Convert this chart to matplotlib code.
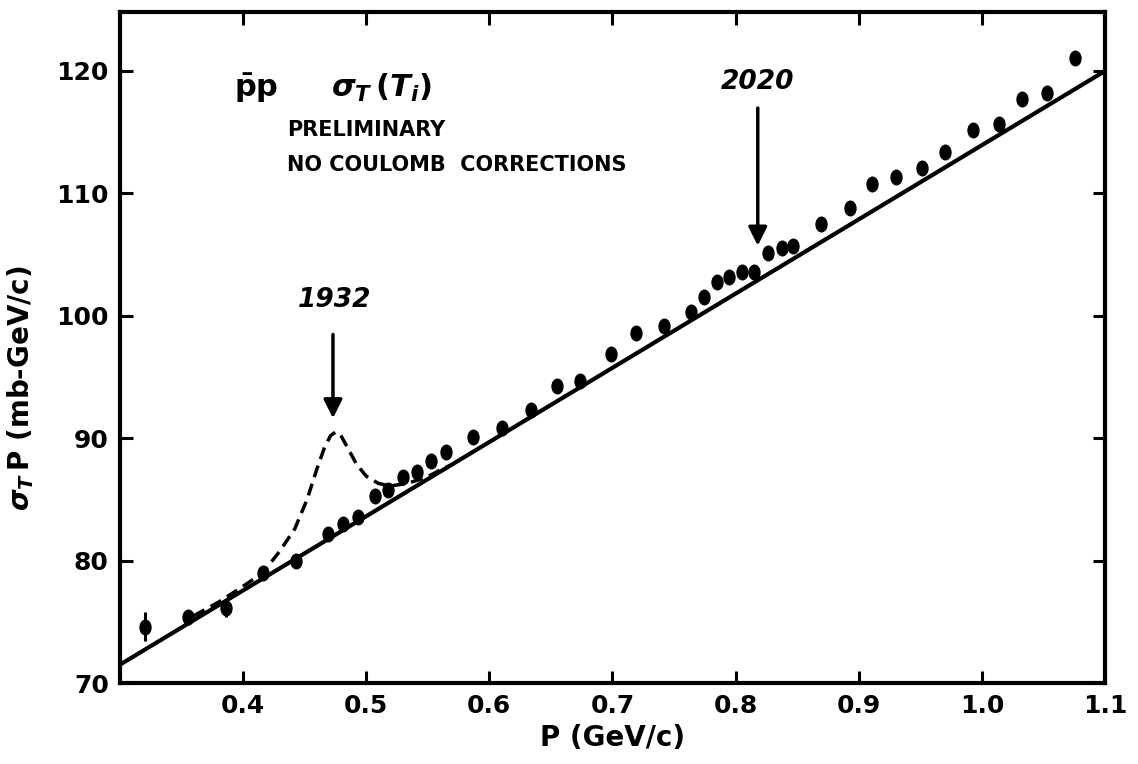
import matplotlib.pyplot as plt
from matplotlib.path import Path
from matplotlib.transforms import Affine2D

plt.rcParams['mathtext.fontset'] = 'custom'
plt.rcParams['mathtext.rm'] = 'DejaVu Sans:bold'
plt.rcParams['mathtext.it'] = 'DejaVu Sans:italic:bold'
plt.rcParams['mathtext.bf'] = 'DejaVu Sans:bold'

# measured points: P (GeV/c), sigma_T * P (mb-GeV/c), error
p_meas = [0.320, 0.355, 0.386, 0.416, 0.443, 0.469, 0.481, 0.493, 0.507, 0.518,
          0.530, 0.541, 0.553, 0.565, 0.587, 0.610, 0.634, 0.655, 0.674, 0.699,
          0.719, 0.742, 0.764, 0.774, 0.785, 0.795, 0.805, 0.815, 0.826, 0.838,
          0.847, 0.869, 0.893, 0.911, 0.930, 0.951, 0.970, 0.993, 1.014, 1.033,
          1.053, 1.076]
sp_meas = [74.6, 75.4, 76.1, 79.0, 80.0, 82.2, 83.0, 83.6, 85.3, 85.8,
           86.8, 87.2, 88.1, 88.9, 90.1, 90.8, 92.3, 94.3, 94.7, 96.9,
           98.6, 99.2, 100.3, 101.5, 102.8, 103.2, 103.6, 103.6, 105.1, 105.5,
           105.7, 107.5, 108.8, 110.8, 111.3, 112.1, 113.4, 115.2, 115.7, 117.7,
           118.2, 121.1]
sp_err = [1.2, 0.45, 0.7, 0.3, 0.3, 0.3, 0.3, 0.3, 0.3, 0.3,
          0.3, 0.3, 0.3, 0.3, 0.3, 0.3, 0.3, 0.3, 0.3, 0.3,
          0.6, 0.3, 0.3, 0.3, 0.3, 0.3, 0.3, 0.3, 0.3, 0.3,
          0.3, 0.3, 0.3, 0.3, 0.3, 0.3, 0.3, 0.3, 0.3, 0.3,
          0.3, 0.3]

# solid background line
bg_p = [0.30, 1.10]
bg_sp = [71.5, 120.0]

# dashed curve with the 1932 bump
bump_p = [0.360, 0.380, 0.400, 0.416, 0.430, 0.442, 0.452, 0.460, 0.466, 0.471,
          0.475, 0.479, 0.485, 0.492, 0.500, 0.510, 0.520, 0.533, 0.549, 0.560, 0.571]
bump_sp = [75.5, 76.6, 77.9, 79.0, 80.8, 82.6, 85.0, 87.5, 89.2, 90.2,
           90.5, 90.3, 89.2, 87.9, 86.9, 86.3, 86.1, 86.3, 86.8, 87.4, 87.9]

x_ticks = [0.4, 0.5, 0.6, 0.7, 0.8, 0.9, 1.0, 1.1]
x_labels = ['0.4', '0.5', '0.6', '0.7', '0.8', '0.9', '1.0', '1.1']
y_ticks = [70, 80, 90, 100, 110, 120]

fig = plt.figure(figsize=(11.38, 7.64), dpi=100)
ax = fig.add_axes([0.1054, 0.106, 0.8656, 0.878])

blob = Path.unit_circle().transformed(Affine2D().scale(0.75, 1.0))

ax.plot(bg_p, bg_sp, color='k', lw=3)
ax.plot(bump_p, bump_sp, color='k', lw=2.5, ls=(0, (3.5, 2)))
ax.errorbar(p_meas, sp_meas, yerr=sp_err, fmt='none', ecolor='k', elinewidth=2.2)
ax.plot(p_meas, sp_meas, ls='none', marker=blob, ms=10.5, color='k')

ax.set_xlim(0.3, 1.1)
ax.set_ylim(70, 124.8)
ax.set_xticks(x_ticks)
ax.set_xticklabels(x_labels)
ax.set_yticks(y_ticks)
ax.tick_params(direction='in', length=9, width=2.2, top=True, right=True,
               labelsize=18, pad=8)
for lab in ax.get_xticklabels() + ax.get_yticklabels():
    lab.set_fontweight('bold')
for s in ax.spines.values():
    s.set_linewidth(3)

ax.set_xlabel('P (GeV/c)', fontsize=20, fontweight='bold', labelpad=4)
ax.set_ylabel(r'$\sigma_T\,$P (mb-GeV/c)', fontsize=20, fontweight='bold')
ax.yaxis.set_label_coords(-0.085, 0.44)

ax.text(0.411, 118.6, r'$\bar{\mathrm{p}}\mathrm{p}$', fontsize=22, ha='center', va='center')
ax.text(0.471, 118.6, r'$\sigma_T\,(T_i)$', fontsize=22, ha='left', va='center')
ax.text(0.436, 115.2, 'PRELIMINARY', fontsize=15, fontweight='bold', va='center')
ax.text(0.436, 112.3, 'NO COULOMB  CORRECTIONS', fontsize=15, fontweight='bold', va='center')

ax.text(0.474, 101.3, '1932', fontsize=19, fontweight='bold', fontstyle='italic',
        ha='center', va='center')
ax.annotate('', xy=(0.473, 91.4), xytext=(0.473, 98.7),
            arrowprops=dict(arrowstyle='-|>', lw=2.5, mutation_scale=28, color='k'))
ax.text(0.818, 119.1, '2020', fontsize=19, fontweight='bold', fontstyle='italic',
        ha='center', va='center')
ax.annotate('', xy=(0.818, 105.5), xytext=(0.818, 117.2),
            arrowprops=dict(arrowstyle='-|>', lw=2.5, mutation_scale=28, color='k'))

fig.savefig('out.png', dpi=100)
